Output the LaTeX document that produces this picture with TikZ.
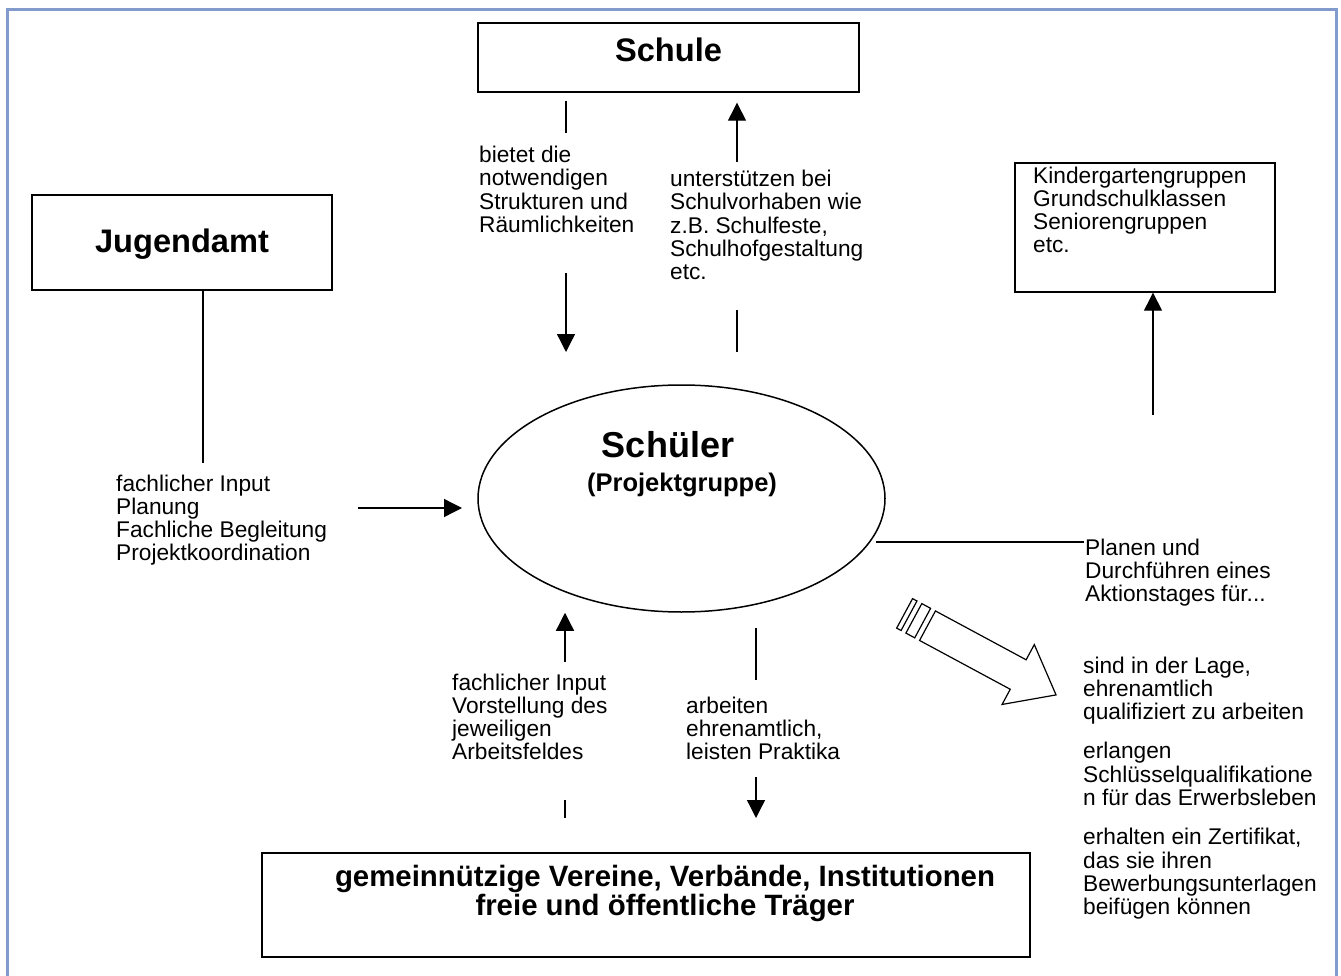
\documentclass[tikz,border=0pt]{standalone}
\usepackage{fontspec}
\setmainfont{Liberation Sans}
\usetikzlibrary{arrows.meta,shapes.geometric}
\definecolor{framec}{RGB}{128,155,204}
\tikzset{
  box/.style={draw, line width=1.4pt, fill=white, inner sep=0pt},
  lbl/.style={anchor=north west, align=left, inner sep=0pt, font=\fontsize{22.7}{23.3}\selectfont},
  ttl/.style={anchor=base, inner sep=0pt, align=center},
  conn/.style={line width=1.3pt},
  arr/.style={conn, -{Triangle[length=18pt,width=18pt]}},
}
\begin{document}
\begin{tikzpicture}[x=1pt,y=-1pt]
\useasboundingbox (0,0) rectangle (1341,976);
\draw[framec, line width=3pt] (7.5,976) -- (7.5,9.5) -- (1336,9.5) -- (1336,976);

% boxes
\node[box, minimum width=381pt, minimum height=69pt] (schule) at (668.5,57.5) {};
\node[ttl, font=\bfseries\fontsize{32.6}{36}\selectfont] (schuleT) at (668.5,61.7) {Schule};

\node[box, minimum width=300pt, minimum height=95pt] (jugend) at (182,242.5) {};
\node[ttl, font=\bfseries\fontsize{32.6}{36}\selectfont] (jugendT) at (182,253) {Jugendamt};

\node[box, minimum width=260pt, minimum height=129pt] (kind) at (1145,227.5) {};
\node[lbl] (kindT) at (1033,166.4) {Kindergartengruppen\\Grundschulklassen\\Seniorengruppen\\etc.};

\node[draw, ellipse, line width=1.5pt, minimum width=407pt, minimum height=227pt, inner sep=0pt] (schueler) at (681.5,498.5) {};
\node[ttl, font=\bfseries\fontsize{36}{40}\selectfont] (schuelerT) at (668,457) {Schüler};
\node[ttl, font=\bfseries\fontsize{25.5}{28}\selectfont] (projT) at (682,491) {(Projektgruppe)};

\node[box, minimum width=768pt, minimum height=104pt] (verein) at (646,905) {};
\node[ttl, font=\bfseries\fontsize{29.4}{28.5}\selectfont] (vereinT) at (665,915) {gemeinnützige Vereine, Verbände, Institutionen\\freie und öffentliche Träger};

% text blocks
\node[lbl] (bietet) at (479,146) {bietet die\\notwendigen\\Strukturen und\\Räumlichkeiten};
\node[lbl] (unter) at (670,170) {unterstützen bei\\Schulvorhaben wie\\z.B. Schulfeste,\\Schulhofgestaltung\\etc.};
\node[lbl] (jinput) at (116,474.4) {fachlicher Input\\Planung\\Fachliche Begleitung\\Projektkoordination};
\node[lbl] (planen) at (1085,538.4) {Planen und\\Durchführen eines\\Aktionstages für...};
\node[lbl] (vinput) at (452,673.4) {fachlicher Input\\Vorstellung des\\jeweiligen\\Arbeitsfeldes};
\node[lbl] (arbeiten) at (686,696.4) {arbeiten\\ehrenamtlich,\\leisten Praktika};
\node[lbl] (sind) at (1083,656.4) {sind in der Lage,\\ehrenamtlich\\qualifiziert zu arbeiten\\[16pt]erlangen\\Schlüsselqualifikatione\\n für das Erwerbsleben\\[16pt]erhalten ein Zertifikat,\\das sie ihren\\Bewerbungsunterlagen\\beifügen können};

% free connector ends
\coordinate (s1a) at (566,133);
\coordinate (s1b) at (566,273);
\coordinate (s1c) at (566,352);
\coordinate (s2a) at (737,162);
\coordinate (s2b) at (737,310);
\coordinate (s2c) at (737,352);
\coordinate (j1) at (203,463);
\coordinate (j2a) at (358,508);
\coordinate (j2b) at (462,508);
\coordinate (k1) at (1153,415);
\coordinate (k2a) at (876,542);
\coordinate (k2b) at (1084,542);
\coordinate (b1a) at (565,661.7);
\coordinate (b1b) at (565,800);
\coordinate (b1c) at (565,818);
\coordinate (b2a) at (756,628);
\coordinate (b2b) at (756,680);
\coordinate (b2c) at (756,777);
\coordinate (b2d) at (756,818);

% connectors
\draw[conn] (schule.south -| s1a) ++(0,8) -- (s1a);
\draw[arr] (s1b) -- (s1c);
\draw[arr] (s2a) -- ([yshift=-10pt]schule.south -| s2a);
\draw[conn] (s2b) -- (s2c);
\draw[conn] (jugend.south -| j1) -- (j1);
\draw[arr] (j2a) -- (j2b);
\draw[arr] (k1) -- (kind.south -| k1);
\draw[conn] (k2a) -- (k2b);
\draw[arr] (b1a) -- (b1a |- schueler.south);
\draw[conn] (b1b) -- (b1c);
\draw[conn] (b2a) -- (b2b);
\draw[arr] (b2c) -- (b2d);

% hollow arrow
\begin{scope}[shift={(927.5,625.7)}, rotate=-28.3]
  \draw[conn, line width=1.2pt] (-26,-16.75) rectangle (-21,16.75);
  \draw[conn, line width=1.2pt] (-15.5,-16.75) rectangle (-5.5,16.75);
  \draw[conn, line width=1.2pt] (0,-16.75) -- (103,-16.75) -- (103,-34) -- (146,0) -- (103,34) -- (103,16.75) -- (0,16.75) -- cycle;
\end{scope}
\end{tikzpicture}
\end{document}
